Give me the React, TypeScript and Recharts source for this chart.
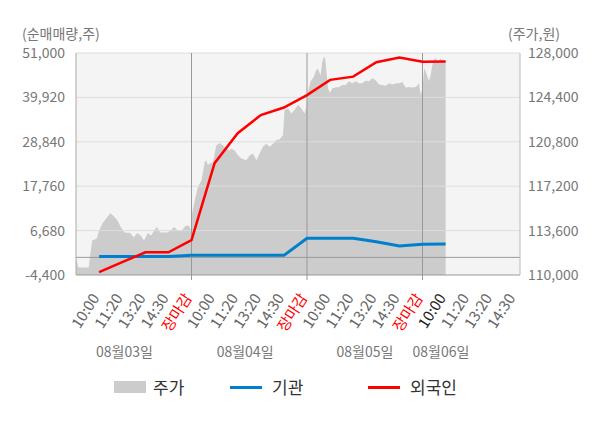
import React from 'react';
import {
  ComposedChart,
  Area,
  Line,
  XAxis,
  YAxis,
  CartesianGrid,
  ReferenceLine,
} from 'recharts';

// price (right axis), x in time slots: each day spans 5 slots, 장마감 at 5, 10, 15
const priceSlots = [
  0.0, 0.1, 0.55, 0.62, 0.7, 0.9, 1.0, 1.15, 1.35, 1.5, 1.65, 1.8, 1.95, 2.1, 2.35, 2.5, 2.65, 2.8, 2.95,
  3.1, 3.25, 3.4, 3.5, 3.65, 3.95, 4.1, 4.25, 4.4, 4.55, 4.75, 4.9, 4.97,
  5.02, 5.14, 5.28, 5.43, 5.57, 5.64, 5.71, 5.79, 5.93, 6.07, 6.22, 6.36, 6.51, 6.65, 6.72, 6.87, 7.01,
  7.16, 7.37, 7.52, 7.66, 7.81, 7.95, 8.09, 8.24, 8.38, 8.53, 8.67, 8.82, 8.96, 9.03, 9.18, 9.32, 9.47,
  9.61, 9.76, 9.9, 9.97,
  10.01, 10.16, 10.3, 10.37, 10.45, 10.52, 10.59, 10.66, 10.74, 10.78, 10.84, 10.91, 10.99, 11.1, 11.24,
  11.39, 11.53, 11.67, 11.82, 11.96, 12.11, 12.25, 12.39, 12.54, 12.68, 12.83, 12.97, 13.12, 13.26, 13.41,
  13.55, 13.7, 13.84, 13.98, 14.13, 14.27, 14.42, 14.56, 14.71, 14.85, 14.92, 15.0,
  15.07, 15.14, 15.21, 15.28, 15.35, 15.43, 15.5, 15.57, 15.64, 15.71, 15.79, 15.86, 15.93, 16.0,
];
const prices = [
  111400, 110600, 110600, 111700, 112800, 112950, 113600, 114200, 114700, 115000, 114750, 114400, 113850,
  113450, 113400, 113050, 113400, 113200, 112800, 113400, 113200, 113650, 113900, 113450, 113450, 113600,
  113900, 113600, 113550, 114000, 114000, 113600,
  114950, 116050, 117150, 117650, 119150, 119300, 118900, 119050, 119150, 120500, 120700, 120500, 120250,
  120100, 120250, 120100, 119700, 119450, 119300, 119700, 119850, 119300, 119850, 120400, 120650, 120400,
  120650, 120950, 121000, 121350, 123400, 123500, 123100, 123400, 123800, 123500, 123100, 123650,
  124600, 125700, 126100, 126500, 126750, 126500, 126200, 127300, 127700, 127600, 126500, 125150, 124750,
  125150, 125200, 125250, 125400, 125400, 125700, 125550, 125700, 125550, 125550, 125750, 125700, 125950,
  125800, 125450, 125400, 125350, 125550, 125450, 125550, 125550, 125650, 125200, 125250, 125200, 125250,
  125550, 124600, 125150,
  126750, 126500, 126100, 125700, 126200, 127050, 127450, 127600, 127200, 127300, 127600, 127200, 127450,
  127400,
];

// net buying (left axis), one value per time slot
const flowSlots = [1, 2, 3, 4, 5, 6, 7, 8, 9, 10, 11, 12, 13, 14, 15, 16];
const foreign = [-3700, -1200, 1250, 1250, 4300, 23500, 31000, 35500, 37400, 40500, 44300, 45100, 48700, 49900, 48800, 48900];
const institution = [200, 200, 200, 200, 500, 500, 500, 500, 500, 4750, 4750, 4750, 3900, 2850, 3250, 3350];

const tickSlots = [1, 2, 3, 4, 5, 6, 7, 8, 9, 10, 11, 12, 13, 14, 15, 16, 17, 18, 19];
const tickLabels = [
  '10:00', '11:20', '13:20', '14:30', '장마감',
  '10:00', '11:20', '13:20', '14:30', '장마감',
  '10:00', '11:20', '13:20', '14:30', '장마감',
  '10:00', '11:20', '13:20', '14:30',
];
const currentSlot = 16;
const closeSlots = [5, 10, 15];

const dateSlots = [2.1, 7.32, 12.51, 15.8];
const dateLabels = ['08월03일', '08월04일', '08월05일', '08월06일'];

const leftTicks = [-4400, 6680, 17760, 28840, 39920, 51000];
const rightTicks = [110000, 113600, 117200, 120800, 124400, 128000];

const priceData = priceSlots.map((x, i) => ({ x, price: prices[i] }));
const flowData = flowSlots.map((x, i) => ({ x, foreign: foreign[i], institution: institution[i] }));

const FONT = '"Noto Sans CJK KR", "Noto Sans", sans-serif';
const fmt = (v: number) => v.toLocaleString('en-US');

const TimeTick = (props: any) => {
  const { x, y, payload } = props;
  const idx = tickSlots.indexOf(payload.value);
  const label = tickLabels[idx];
  const isClose = closeSlots.includes(payload.value);
  const color = isClose ? '#ff0000' : payload.value === currentSlot ? '#222' : '#666';
  return (
    <g>
      {isClose && <line x1={x} y1={y - 8} x2={x} y2={y - 3} stroke="#999" />}
      <text
        transform={`translate(${x + 1},${y + 15}) rotate(-57)`}
        textAnchor="end"
        fontSize={15}
        fontFamily={FONT}
        fill={color}
      >
        {label}
      </text>
    </g>
  );
};

const DateTick = (props: any) => {
  const { x, y, payload } = props;
  const label = dateLabels[dateSlots.indexOf(payload.value)];
  return (
    <text x={x} y={y + 11} textAnchor="middle" fontSize={14} fontFamily={FONT} fill="#777">
      {label}
    </text>
  );
};

export default function App() {
  return (
    <div style={{ position: 'relative', width: 600, height: 428, background: '#fff', fontFamily: FONT }}>
      <style>{'body{margin:0}'}</style>
      <div style={{ position: 'absolute', left: 22, top: 26, fontSize: 14, lineHeight: '14px', color: '#777' }}>
        (순매매량,주)
      </div>
      <div style={{ position: 'absolute', left: 508, top: 26, fontSize: 14, lineHeight: '14px', color: '#777' }}>
        (주가,원)
      </div>
      <ComposedChart width={600} height={428} margin={{ top: 53, right: 0, bottom: 60, left: 0 }}>
        <CartesianGrid horizontal={false} vertical={false} fill="#f4f4f4" yAxisId="left" xAxisId="a_time" />
        <XAxis
          xAxisId="a_time"
          type="number"
          dataKey="x"
          domain={[0, 19.22]}
          allowDataOverflow
          ticks={tickSlots}
          interval={0}
          height={63}
          tickLine={false}
          axisLine={{ stroke: '#999' }}
          tick={<TimeTick />}
        />
        <XAxis
          xAxisId="b_date"
          type="number"
          dataKey="x"
          domain={[0, 19.22]}
          allowDataOverflow
          ticks={dateSlots}
          interval={0}
          height={30}
          tickLine={false}
          axisLine={false}
          tick={<DateTick />}
        />
        <YAxis
          yAxisId="left"
          orientation="left"
          width={76}
          domain={[-4400, 51000]}
          ticks={leftTicks}
          interval={0}
          tickLine={false}
          tickMargin={5}
          axisLine={{ stroke: '#aaa' }}
          tickFormatter={fmt}
          tick={{ fill: '#777', fontSize: 14, fontFamily: FONT }}
        />
        <YAxis
          yAxisId="right"
          orientation="right"
          width={80}
          domain={[110000, 128000]}
          ticks={rightTicks}
          interval={0}
          tickLine={false}
          axisLine={{ stroke: '#bbb' }}
          tickFormatter={fmt}
          tick={{ fill: '#777', fontSize: 14, fontFamily: FONT, textAnchor: 'start' }}
        />
        <Area
          data={priceData}
          xAxisId="a_time"
          yAxisId="right"
          dataKey="price"
          type="linear"
          stroke="none"
          fill="#cccccc"
          fillOpacity={1}
          isAnimationActive={false}
        />
        {leftTicks.slice(1).map((t) => (
          <ReferenceLine key={t} xAxisId="a_time" yAxisId="left" y={t} stroke="#dddddd" />
        ))}
        <ReferenceLine xAxisId="a_time" yAxisId="left" y={0} stroke="#999" />
        {closeSlots.map((s) => (
          <ReferenceLine key={s} xAxisId="a_time" yAxisId="left" x={s} stroke="#999" />
        ))}
        <Line
          data={flowData}
          xAxisId="a_time"
          yAxisId="left"
          dataKey="institution"
          type="linear"
          stroke="#0080cc"
          strokeWidth={3}
          dot={false}
          isAnimationActive={false}
        />
        <Line
          data={flowData}
          xAxisId="a_time"
          yAxisId="left"
          dataKey="foreign"
          type="linear"
          stroke="#ff0000"
          strokeWidth={2.5}
          dot={false}
          isAnimationActive={false}
        />
      </ComposedChart>
      <div style={{ position: 'absolute', left: 114, top: 381, width: 32, height: 12, background: '#cccccc' }} />
      <div style={{ position: 'absolute', left: 153, top: 376, fontSize: 17, lineHeight: '22px', color: '#333' }}>주가</div>
      <div style={{ position: 'absolute', left: 230, top: 385.5, width: 32, height: 3, background: '#0080cc' }} />
      <div style={{ position: 'absolute', left: 272, top: 376, fontSize: 17, lineHeight: '22px', color: '#333' }}>기관</div>
      <div style={{ position: 'absolute', left: 368, top: 385.5, width: 32, height: 3, background: '#ff0000' }} />
      <div style={{ position: 'absolute', left: 410, top: 376, fontSize: 17, lineHeight: '22px', color: '#333' }}>외국인</div>
    </div>
  );
}
